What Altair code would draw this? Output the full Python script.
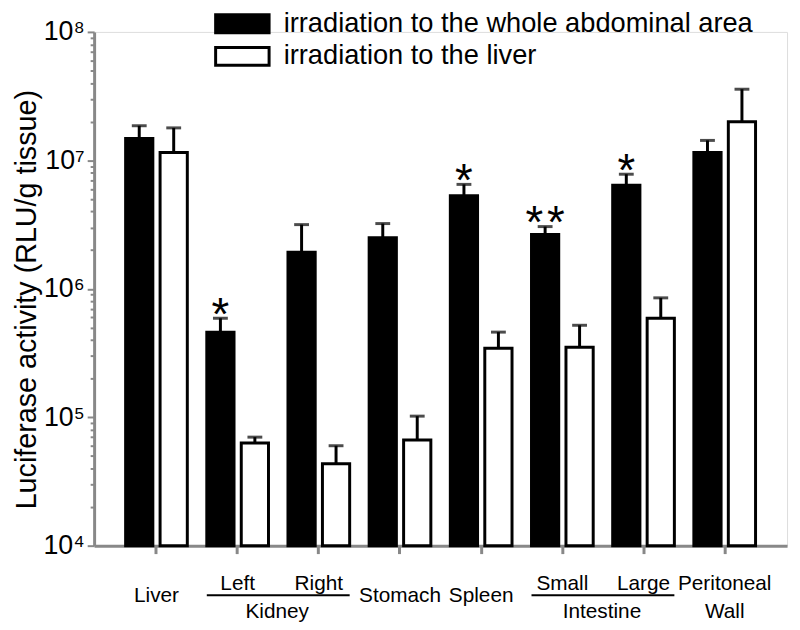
import altair as alt
import pandas as pd

# ---- data ----
organs = ["Liver", "Kidney-Left", "Kidney-Right", "Stomach", "Spleen",
          "Intestine-Small", "Intestine-Large", "Peritoneal Wall"]
groups = ["irradiation to the whole abdominal area", "irradiation to the liver"]

whole_mean = [1.48e7, 4.6e5, 1.93e6, 2.5e6, 5.3e6, 2.65e6, 6.4e6, 1.15e7]
whole_top = [1.86e7, 5.9e5, 3.16e6, 3.22e6, 6.5e6, 3.05e6, 7.8e6, 1.43e7]
liver_mean = [1.15e7, 6.3e4, 4.35e4, 6.65e4, 3.45e5, 3.5e5, 5.9e5, 2.0e7]
liver_top = [1.79e7, 7.0e4, 6.0e4, 1.02e5, 4.6e5, 5.2e5, 8.5e5, 3.58e7]
stars = ["", "*", "", "", "*", "*\u200a*", "*", ""]

single_labels = ["Liver", "Stomach", "Spleen"]
single_organs = ["Liver", "Stomach", "Spleen"]
upper_labels = ["Left", "Right", "Small", "Large", "Peritoneal"]
upper_organs = ["Kidney-Left", "Kidney-Right", "Intestine-Small", "Intestine-Large", "Peritoneal Wall"]
group_labels = ["Kidney", "Intestine"]
group_first = ["Kidney-Left", "Intestine-Small"]
group_last = ["Kidney-Right", "Intestine-Large"]
wall_labels = ["Wall"]
wall_organs = ["Peritoneal Wall"]

y_ticks = [m * 10 ** k for k in range(4, 8) for m in range(1, 10)] + [10 ** 8]
y_floor = 1e4

# ---- tables ----
bars = pd.DataFrame({
    "organ": organs * 2,
    "group": [groups[0]] * len(organs) + [groups[1]] * len(organs),
    "mean": whole_mean + liver_mean,
    "top": whole_top + liver_top,
})
star_df = pd.DataFrame({"organ": organs, "group": groups[0], "top": whole_top, "star": stars})
star_df = star_df[star_df["star"] != ""]
single_df = pd.DataFrame({"organ": single_organs, "label": single_labels})
upper_df = pd.DataFrame({"organ": upper_organs, "label": upper_labels})
group_df = pd.DataFrame({"organ": group_first, "last": group_last, "label": group_labels})
wall_df = pd.DataFrame({"organ": wall_organs, "label": wall_labels})

FONT = "Liberation Sans"
xscale = alt.Scale(domain=organs, paddingInner=0.24, paddingOuter=0.388)
oscale = alt.Scale(domain=groups, paddingInner=0.21, paddingOuter=0)
yscale = alt.Scale(type="log", domain=[1e4, 1e8])

major = "indexof([10000,100000,1000000,10000000,100000000], datum.value) >= 0"
label_expr = ("datum.value == 10000 ? '10⁴' : datum.value == 100000 ? '10⁵' : "
              "datum.value == 1000000 ? '10⁶' : datum.value == 10000000 ? '10⁷' : "
              "datum.value == 100000000 ? '10⁸' : ''")

xaxis = alt.Axis(labels=False, title=None, tickSize=8, tickWidth=3, domainWidth=3, grid=False)
yaxis = alt.Axis(values=y_ticks, labelExpr=label_expr, grid=False,
                 title="Luciferase activity (RLU/g tissue)",
                 tickSize={"condition": {"test": major, "value": 7}, "value": 4},
                 tickWidth=2, domainWidth=3, labelFontSize=27, labelPadding=3,
                 titleFontSize=29, titleFontWeight="normal", titleX=-53, titleY=270)

x_enc = alt.X("organ:N", scale=xscale, axis=xaxis, title=None)
off_enc = alt.XOffset("group:N", scale=oscale)

bar_layer = alt.Chart(bars).mark_bar(stroke="black", strokeWidth=3).encode(
    x=x_enc,
    xOffset=off_enc,
    y=alt.Y("mean:Q", scale=yscale, axis=yaxis),
    y2=alt.Y2Datum(y_floor),
    fill=alt.Fill("group:N", scale=alt.Scale(domain=groups, range=["black", "white"]),
                  legend=alt.Legend(title=None, orient="none", legendX=136, legendY=-22,
                                    symbolType="M-3,-1H3V1H-3Z", symbolSize=324,
                                    symbolStrokeColor="black", symbolStrokeWidth=3,
                                    labelFontSize=27.5, labelFont=FONT, labelColor="black",
                                    labelLimit=0, labelOffset=28, rowPadding=2)),
)

err_rule = alt.Chart(bars).mark_rule(color="black", strokeWidth=3).encode(
    x=x_enc, xOffset=off_enc,
    y=alt.Y("mean:Q", scale=yscale, axis=yaxis), y2="top:Q",
)
err_cap = alt.Chart(bars).mark_tick(color="black", thickness=3, size=15, orient="horizontal").encode(
    x=x_enc, xOffset=off_enc,
    y=alt.Y("top:Q", scale=yscale, axis=yaxis),
)
star_layer = alt.Chart(star_df).mark_text(fontSize=46, font=FONT, color="black",
                                          baseline="alphabetic", dy=12).encode(
    x=x_enc, xOffset=off_enc,
    y=alt.Y("top:Q", scale=yscale, axis=yaxis), text="star:N",
)

lab_kw = dict(font=FONT, fontSize=21, color="black", baseline="alphabetic", align="center")
single_layer = alt.Chart(single_df).mark_text(**lab_kw).encode(
    x=x_enc, y=alt.value(576), text="label:N")
upper_layer = alt.Chart(upper_df).mark_text(**lab_kw).encode(
    x=x_enc, y=alt.value(564), text="label:N")
group_layer = alt.Chart(group_df).mark_text(dx=40, **lab_kw).encode(
    x=x_enc, y=alt.value(592), text="label:N")
wall_layer = alt.Chart(wall_df).mark_text(**lab_kw).encode(
    x=x_enc, y=alt.value(592), text="label:N")
underline = alt.Chart(group_df).mark_rule(color="black", strokeWidth=2).encode(
    x=alt.X("organ:N", scale=xscale, bandPosition=0, axis=xaxis, title=None),
    x2=alt.X2("last:N", bandPosition=1),
    y=alt.value(569),
)

chart = alt.layer(
    bar_layer, err_rule, err_cap, star_layer,
    single_layer, upper_layer, group_layer, wall_layer, underline,
).properties(
    width=700, height=519,
    autosize=alt.AutoSizeParams(type="none"),
    padding={"left": 87, "top": 21, "right": 5, "bottom": 80},
).configure_view(strokeWidth=0).configure_axis(
    grid=False, domainColor="black", tickColor="black", labelColor="black",
    titleColor="black", labelFont=FONT, titleFont=FONT,
).configure(font=FONT)

chart.save("out.html", embed_options={"renderer": "svg", "actions": False})
